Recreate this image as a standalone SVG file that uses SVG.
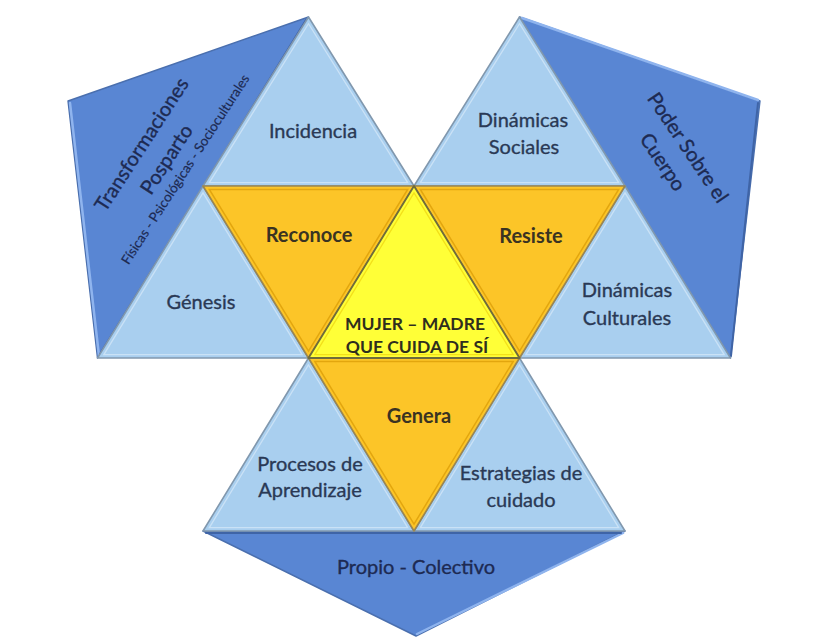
<svg xmlns="http://www.w3.org/2000/svg" xmlns:xlink="http://www.w3.org/1999/xlink" width="813" height="644" viewBox="0 0 813 644">
<style>
.lb{fill:#a9cfef;stroke:#8198ae;stroke-width:1.6;stroke-linejoin:round}
.lbi{fill:none;stroke:#d2e6f8;stroke-width:1.4;opacity:0.8}
.or{fill:#fcc528;stroke:#9a8652;stroke-width:1.6;stroke-linejoin:round}
.ori{fill:none;stroke:#e3a60e;stroke-width:1.6}
.ye{fill:#ffff37;stroke:#6f6c3a;stroke-width:1.8;stroke-linejoin:round}
.yei{fill:none;stroke:#f3e01a;stroke-width:1.4}
.db{fill:#5986d3;stroke:#4a6fae;stroke-width:1.4;stroke-linejoin:round}
.hl{fill:none;stroke:#8fb4ee;stroke-width:2.5;stroke-linecap:round}
.sh{fill:none;stroke:#3f64a6;stroke-width:2;stroke-linecap:round}
text{font-family:Lato,"Open Sans","Liberation Sans",sans-serif;text-anchor:middle}
.t{font-size:20px;fill:#2a3955;stroke:#2a3955;stroke-width:0.35}
.tb{font-size:20px;font-weight:bold;fill:#3a3322}
.tc{font-size:17.5px;font-weight:bold;fill:#2f2e1e}
.td{font-size:20px;fill:#1d2a52;stroke:#1d2a52;stroke-width:0.35}
.ts{font-size:13.5px;fill:#1d2a52;stroke:#1d2a52;stroke-width:0.2}
</style>
<defs>
<polygon id="p-inc" points="308.5,17 203,186 414,186"/>
<polygon id="p-gen" points="203,186 97.5,358 308.5,358"/>
<polygon id="p-dso" points="519.5,17 414,186 625,186"/>
<polygon id="p-dcu" points="625,186 519.5,358 730.5,358"/>
<polygon id="p-pro" points="308.5,358 203,531 414,531"/>
<polygon id="p-est" points="519.5,358 414,531 625,531"/>
<polygon id="p-rec" points="203,186 414,186 308.5,358"/>
<polygon id="p-res" points="414,186 625,186 519.5,358"/>
<polygon id="p-gna" points="308.5,358 519.5,358 414,531"/>
<polygon id="p-cen" points="414,186 308.5,358 519.5,358"/>
</defs>
<rect width="813" height="644" fill="#ffffff"/>
<g id="connectors"></g>

<g id="transformaciones-posparto">
<polygon class="db" points="308.5,17 68,101 97.5,358"/>
<polyline class="hl" points="70,103 99,356"/>
<polyline class="sh" points="306,20 100,354"/>
<g transform="translate(160,160) rotate(-57)">
<text class="td" x="3" y="-17" font-size="22">Transformaciones</text>
<text class="td" x="4" y="12" font-size="22">Posparto</text>
<text class="ts" x="6" y="31">Físicas - Psicológicas - Socioculturales</text>
</g>
</g>

<g id="poder-sobre-el-cuerpo">
<polygon class="db" points="519.5,17 760,101 730.5,358"/>
<polyline class="hl" points="522,18 758,100"/>
<polyline class="sh" points="758,103 731,356"/>
<g transform="translate(675,155) rotate(56)">
<text class="td" x="1" y="-8">Poder Sobre el</text>
<text class="td" x="-1" y="21">Cuerpo</text>
</g>
</g>

<g id="propio-colectivo">
<polygon class="db" points="203,531 625,531 416,636"/>
<polyline class="hl" points="623,533 417,634"/>
<polyline class="sh" points="206,533 621,533"/>
<text class="td" x="416" y="574">Propio - Colectivo</text>
</g>

<g id="incidencia">
<use xlink:href="#p-inc" class="lb"/>
<use xlink:href="#p-inc" class="lbi" transform="matrix(0.94 0 0 0.94 18.51 7.78)"/>
<text class="t" x="313" y="138">Incidencia</text>
</g>
<g id="genesis">
<use xlink:href="#p-gen" class="lb"/>
<use xlink:href="#p-gen" class="lbi" transform="matrix(0.94 0 0 0.94 12.18 18.04)"/>
<text class="t" x="201" y="309">Génesis</text>
</g>
<g id="dinamicas-sociales">
<use xlink:href="#p-dso" class="lb"/>
<use xlink:href="#p-dso" class="lbi" transform="matrix(0.94 0 0 0.94 31.17 7.78)"/>
<text class="t" x="523" y="127">Dinámicas</text>
<text class="t" x="524" y="154">Sociales</text>
</g>
<g id="dinamicas-culturales">
<use xlink:href="#p-dcu" class="lb"/>
<use xlink:href="#p-dcu" class="lbi" transform="matrix(0.94 0 0 0.94 37.5 18.04)"/>
<text class="t" x="627" y="297">Dinámicas</text>
<text class="t" x="627" y="325">Culturales</text>
</g>
<g id="procesos-de-aprendizaje">
<use xlink:href="#p-pro" class="lb"/>
<use xlink:href="#p-pro" class="lbi" transform="matrix(0.94 0 0 0.94 18.51 28.40)"/>
<text class="t" x="310" y="471">Procesos de</text>
<text class="t" x="310" y="497">Aprendizaje</text>
</g>
<g id="estrategias-de-cuidado">
<use xlink:href="#p-est" class="lb"/>
<use xlink:href="#p-est" class="lbi" transform="matrix(0.94 0 0 0.94 31.17 28.40)"/>
<text class="t" x="521" y="480">Estrategias de</text>
<text class="t" x="521" y="507">cuidado</text>
</g>

<g id="reconoce">
<use xlink:href="#p-rec" class="or"/>
<use xlink:href="#p-rec" class="ori" transform="matrix(0.94 0 0 0.94 18.51 14.60)"/>
<text class="tb" x="309" y="242">Reconoce</text>
</g>
<g id="resiste">
<use xlink:href="#p-res" class="or"/>
<use xlink:href="#p-res" class="ori" transform="matrix(0.94 0 0 0.94 31.17 14.60)"/>
<text class="tb" x="531" y="243">Resiste</text>
</g>
<g id="genera">
<use xlink:href="#p-gna" class="or"/>
<use xlink:href="#p-gna" class="ori" transform="matrix(0.94 0 0 0.94 24.84 24.94)"/>
<text class="tb" x="419" y="423">Genera</text>
</g>
<g id="mujer-madre">
<use xlink:href="#p-cen" class="ye"/>
<use xlink:href="#p-cen" class="yei" transform="matrix(0.94 0 0 0.94 24.84 18.04)"/>
<text class="tc" x="415" y="330">MUJER – MADRE</text>
<text class="tc" x="417" y="353">QUE CUIDA DE SÍ</text>
</g>
</svg>
